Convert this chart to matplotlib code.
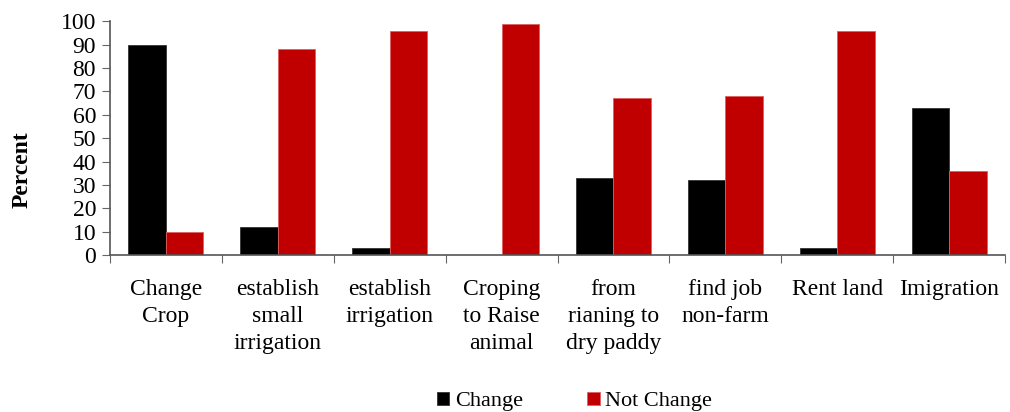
import matplotlib
matplotlib.use("Agg")
import matplotlib.pyplot as plt
import numpy as np

categories = ["Change\nCrop", "establish\nsmall\nirrigation", "establish\nirrigation",
              "Croping\nto Raise\nanimal", "from\nrianing to\ndry paddy", "find job\nnon-farm",
              "Rent land", "Imigration"]
change = [90, 12, 3, 0, 33, 32, 3, 63]
not_change = [10, 88, 96, 99, 67, 68, 96, 36]
yticks = [0, 10, 20, 30, 40, 50, 60, 70, 80, 90, 100]

plt.rcParams['font.family'] = ['Liberation Serif', 'DejaVu Serif']

fig = plt.figure(figsize=(10.1, 4.12), dpi=100)
ax = fig.add_axes([110/1010, (412-255)/412, 895/1010, (255-21.3)/412])

x = np.arange(len(categories))
w = 0.335
ax.bar(x - w/2, change, width=w, color='black', edgecolor='#333333', linewidth=0.6, label='Change')
ax.bar(x + w/2, not_change, width=w, color='#C00000', edgecolor='#E06060', linewidth=0.6, label='Not Change')

ax.set_xlim(-0.5, len(categories) - 0.5)
ax.set_ylim(0, 100)
ax.set_yticks(yticks)
ax.set_yticklabels([str(v) for v in yticks], fontsize=17)
ax.set_xticks(np.arange(len(categories) + 1) - 0.5)
ax.set_xticklabels([])
ax.set_xticks(x, minor=True)
ax.set_xticklabels(categories, minor=True, fontsize=17, linespacing=1.4)
ax.tick_params(axis='x', which='minor', length=0, pad=17)
ax.tick_params(axis='x', which='major', length=6, color='#666666', direction='out')
ax.tick_params(axis='y', length=6, color='#666666', direction='out', pad=4)

for s in ['top', 'right']:
    ax.spines[s].set_visible(False)
for s in ['left', 'bottom']:
    ax.spines[s].set_color('#555555')
    ax.spines[s].set_linewidth(1.2)

ax.set_ylabel('Percent', fontsize=17, fontweight='bold')
ax.yaxis.set_label_coords(-0.086, 0.364)

fig.legend(loc='center', bbox_to_anchor=(0.569, 0.025), ncol=2, frameon=False,
           fontsize=16, handlelength=0.55, handleheight=0.55, handletextpad=0.25,
           columnspacing=2.9)

fig.savefig('out.png', dpi=100)
